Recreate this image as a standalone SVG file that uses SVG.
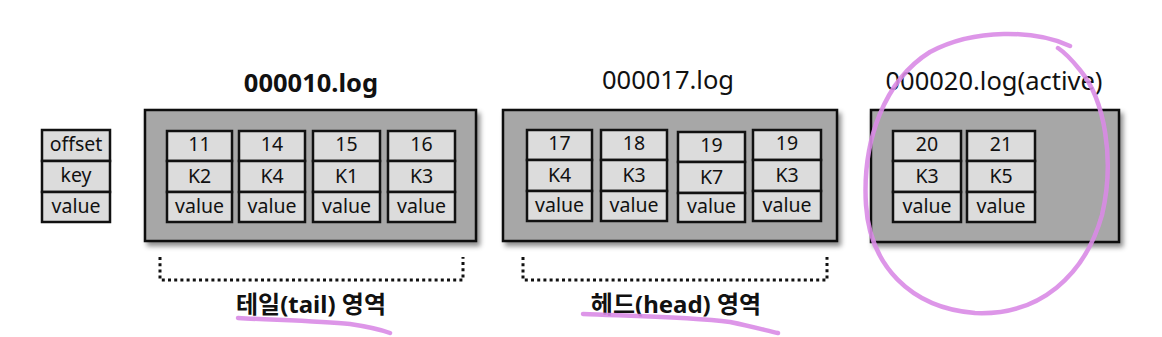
<svg xmlns="http://www.w3.org/2000/svg" width="1162" height="337" viewBox="0 0 1162 337">
<defs>
<filter id="sh" x="-10%" y="-10%" width="125%" height="130%">
<feDropShadow dx="3" dy="4" stdDeviation="2.5" flood-color="#000" flood-opacity="0.45"/>
</filter>
</defs>
<style>
.box{fill:#a7a7a7;stroke:#111;stroke-width:2.5}
.c{fill:#dcdcdc;stroke:#111;stroke-width:2.5}
.t{font-family:"Noto Sans","Noto Sans CJK KR",sans-serif;font-size:19.5px;fill:#111;text-anchor:middle}
.title{font-family:"Noto Sans","Noto Sans CJK KR",sans-serif;font-size:25.5px;fill:#111;text-anchor:middle}
.lab{font-family:"Noto Sans","Noto Sans CJK KR",sans-serif;font-size:24px;font-weight:bold;fill:#111;text-anchor:middle}
.dot{fill:none;stroke:#111;stroke-width:3;stroke-dasharray:3 3.2}
.pink{fill:none;stroke:#d98be6;stroke-width:4.5;stroke-linecap:round;stroke-linejoin:round;opacity:0.9}
</style>
<rect width="1162" height="337" fill="#ffffff"/>

<g id="legend">
<rect class="c" x="42" y="130" width="68" height="31"/>
<rect class="c" x="42" y="161" width="68" height="31"/>
<rect class="c" x="42" y="192" width="68" height="30"/>
<text class="t" x="76" y="151">offset</text>
<text class="t" x="76" y="182">key</text>
<text class="t" x="76" y="213">value</text>
</g>

<g id="log10">
<text class="title" x="311" y="92" font-weight="bold" font-size="26">000010.log</text>
<rect class="box" x="145" y="110" width="331" height="131" filter="url(#sh)"/>
<g id="r11">
<rect class="c" x="167" y="131" width="65" height="30"/><rect class="c" x="167" y="161" width="65" height="31"/><rect class="c" x="167" y="192" width="65" height="30"/>
<text class="t" x="199.5" y="151">11</text><text class="t" x="199.5" y="183">K2</text><text class="t" x="199.5" y="213">value</text>
</g>
<g id="r14">
<rect class="c" x="239" y="131" width="66" height="30"/><rect class="c" x="239" y="161" width="66" height="31"/><rect class="c" x="239" y="192" width="66" height="30"/>
<text class="t" x="272" y="151">14</text><text class="t" x="272" y="183">K4</text><text class="t" x="272" y="213">value</text>
</g>
<g id="r15">
<rect class="c" x="313" y="131" width="67" height="30"/><rect class="c" x="313" y="161" width="67" height="31"/><rect class="c" x="313" y="192" width="67" height="30"/>
<text class="t" x="346.5" y="151">15</text><text class="t" x="346.5" y="183">K1</text><text class="t" x="346.5" y="213">value</text>
</g>
<g id="r16">
<rect class="c" x="388" y="131" width="67" height="30"/><rect class="c" x="388" y="161" width="67" height="31"/><rect class="c" x="388" y="192" width="67" height="30"/>
<text class="t" x="421.5" y="151">16</text><text class="t" x="421.5" y="183">K3</text><text class="t" x="421.5" y="213">value</text>
</g>
</g>

<g id="log17">
<text class="title" x="668" y="89">000017.log</text>
<rect class="box" x="503" y="110" width="334" height="131" filter="url(#sh)"/>
<g id="r17">
<rect class="c" x="527" y="130" width="65" height="30"/><rect class="c" x="527" y="160" width="65" height="31"/><rect class="c" x="527" y="191" width="65" height="30"/>
<text class="t" x="559.5" y="150">17</text><text class="t" x="559.5" y="182">K4</text><text class="t" x="559.5" y="212">value</text>
</g>
<g id="r18">
<rect class="c" x="601" y="130" width="66" height="30"/><rect class="c" x="601" y="160" width="66" height="31"/><rect class="c" x="601" y="191" width="66" height="30"/>
<text class="t" x="634" y="150">18</text><text class="t" x="634" y="182">K3</text><text class="t" x="634" y="212">value</text>
</g>
<g id="r19a">
<rect class="c" x="678" y="132" width="67" height="30"/><rect class="c" x="678" y="162" width="67" height="31"/><rect class="c" x="678" y="193" width="67" height="29"/>
<text class="t" x="711.5" y="152">19</text><text class="t" x="711.5" y="184">K7</text><text class="t" x="711.5" y="213">value</text>
</g>
<g id="r19b">
<rect class="c" x="753" y="130" width="68" height="30"/><rect class="c" x="753" y="160" width="68" height="31"/><rect class="c" x="753" y="191" width="68" height="30"/>
<text class="t" x="787" y="150">19</text><text class="t" x="787" y="182">K3</text><text class="t" x="787" y="212">value</text>
</g>
</g>

<g id="log20">
<text class="title" x="994" y="90" font-size="27.5">000020.log(active)</text>
<rect class="box" x="871" y="110" width="248" height="132" filter="url(#sh)"/>
<g id="r20">
<rect class="c" x="893" y="131" width="68" height="30"/><rect class="c" x="893" y="161" width="68" height="31"/><rect class="c" x="893" y="192" width="68" height="30"/>
<text class="t" x="927" y="151">20</text><text class="t" x="927" y="183">K3</text><text class="t" x="927" y="213">value</text>
</g>
<g id="r21">
<rect class="c" x="967" y="131" width="68" height="30"/><rect class="c" x="967" y="161" width="68" height="31"/><rect class="c" x="967" y="192" width="68" height="30"/>
<text class="t" x="1001" y="151">21</text><text class="t" x="1001" y="183">K5</text><text class="t" x="1001" y="213">value</text>
</g>
</g>

<g id="tail">
<path class="dot" d="M160 257 V280 H463 V257"/>
<text class="lab" x="311" y="313">테일(tail) 영역</text>
</g>
<g id="head">
<path class="dot" d="M523 257 V280 H827 V257"/>
<text class="lab" x="676" y="313" font-size="25">헤드(head) 영역</text>
</g>

<g id="annotations">
<path class="pink" d="M1070 46 C1035 30 975 28 930 52 C885 80 862 140 866 205 C870 265 910 308 975 313 C1040 316 1085 275 1102 215 C1115 160 1105 100 1080 70 C1072 60 1064 52 1058 48"/>
<path class="pink" d="M238 318 C275 320 320 321 350 324 C370 327 382 330 390 333"/>
<path class="pink" d="M583 314 C630 316 690 317 730 322 C755 327 768 331 778 333"/>
</g>
</svg>
